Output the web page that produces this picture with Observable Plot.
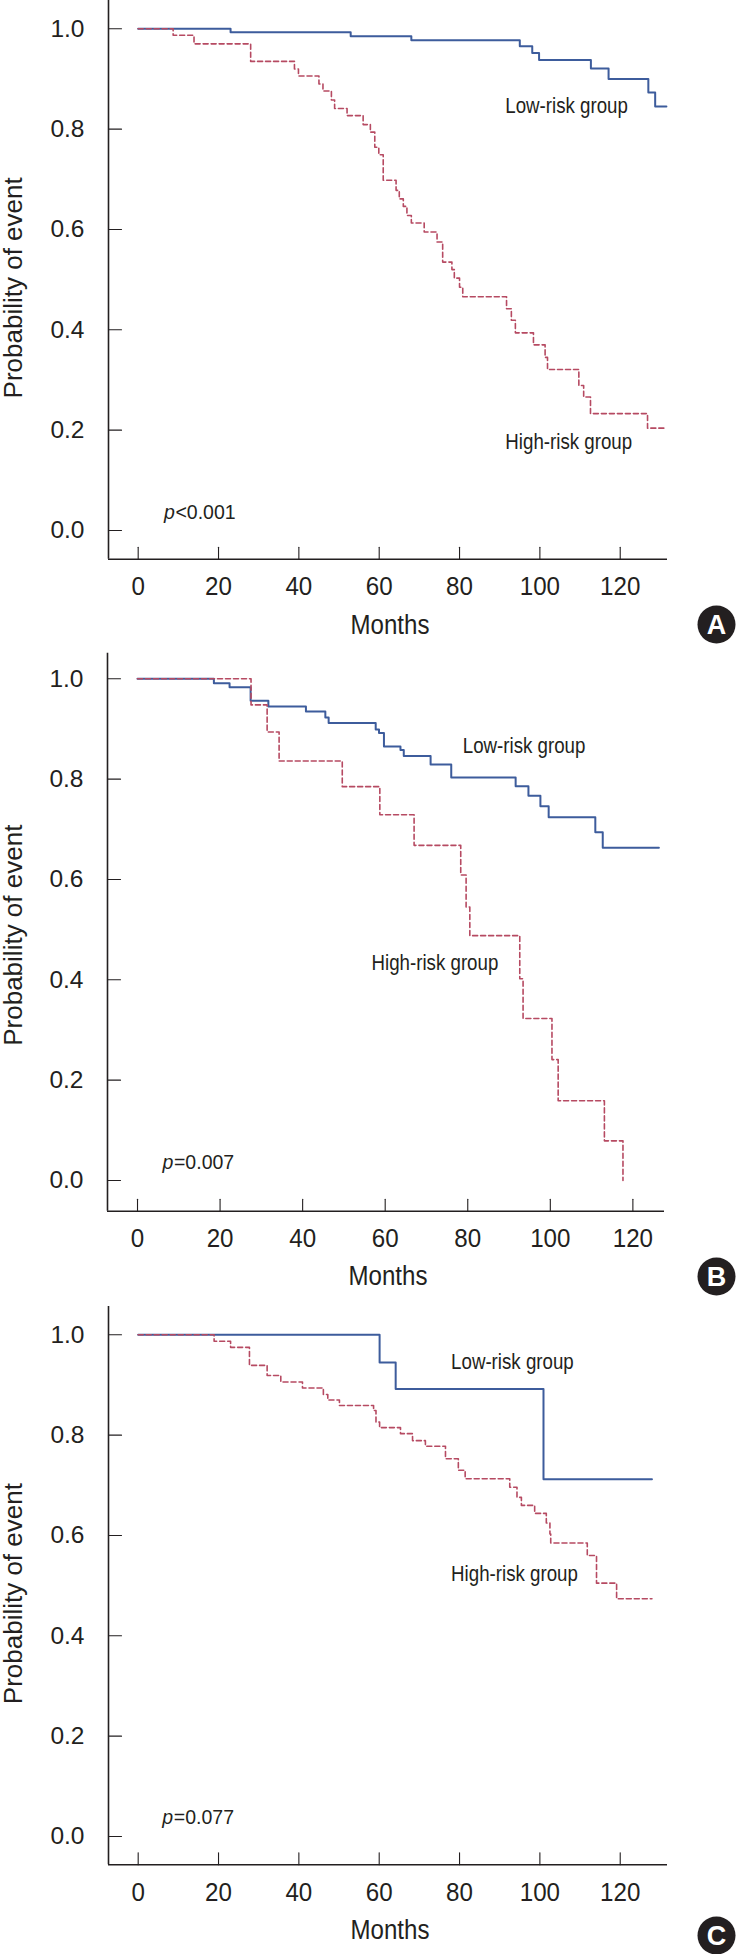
<!DOCTYPE html>
<html>
<head>
<meta charset="utf-8">
<script src="https://cdn.jsdelivr.net/npm/d3@7"></script>
<script src="https://cdn.jsdelivr.net/npm/@observablehq/plot@0.6"></script>
<style>
  html, body { margin: 0; padding: 0; background: #fff; }
  #chart { width: 736px; }
  #chart svg { display: block; }
</style>
</head>
<body>
<div id="chart"></div>
<script>
// ---------- shared labels / ticks ----------
const yTicks = [0, 0.2, 0.4, 0.6, 0.8, 1.0];
const xTicks = [0, 20, 40, 60, 80, 100, 120];
const groupNames = ["Low-risk group", "High-risk group"];
const xTitle = "Months";
const yTitle = "Probability of event";
const panelLetters = ["A", "B", "C"];
const pRelation = ["<", "=", "="];
const pValues = ["0.001", "0.007", "0.077"];

// ---------- Panel A ----------
const aLowTime = [0, 23, 52.9, 68, 95, 98.1, 99.8, 112.7, 117.1, 127, 128.7, 131.5];
const aLowSurv = [1.0, 0.993, 0.985, 0.977, 0.965, 0.952, 0.938, 0.921, 0.900, 0.873, 0.845, 0.845];
const aHighTime = [0, 8.7, 13.9, 28, 38.9, 39.9, 45, 46, 48.1, 48.9, 52, 56, 57.8, 58.9, 59.9, 61, 64.2, 65, 66, 66.9,
  68, 71.2, 74.4, 75.8, 78.1, 78.7, 80, 80.8, 91.7, 92.9, 93.9, 98.4, 101.3, 101.9, 109.7, 110.9, 112.6, 126.8, 131.5];
const aHighSurv = [1.0, 0.987, 0.970, 0.935, 0.920, 0.906, 0.890, 0.876, 0.858, 0.841, 0.827, 0.809, 0.794, 0.764, 0.749, 0.698, 0.678, 0.661, 0.646, 0.628,
  0.613, 0.595, 0.575, 0.535, 0.520, 0.503, 0.485, 0.466, 0.442, 0.419, 0.394, 0.370, 0.345, 0.321, 0.289, 0.266, 0.233, 0.204, 0.204];

// ---------- Panel B ----------
const bLowTime = [0, 18.5, 22.3, 27.4, 31.7, 40.8, 45.5, 46.3, 57.7, 58.5, 59.7, 63.7, 64.5, 71, 76, 91.6, 94.7, 97.6, 99.6, 110.9, 112.7, 126.3];
const bLowSurv = [1.0, 0.991, 0.983, 0.956, 0.945, 0.935, 0.923, 0.912, 0.899, 0.892, 0.865, 0.858, 0.846, 0.829, 0.803, 0.786, 0.767, 0.746, 0.724, 0.694, 0.663, 0.663];
const bHighTime = [0, 27.5, 31.4, 34.3, 49.6, 58.7, 67, 78.3, 79.6, 80.5, 92.6, 93.4, 100.4, 101.9, 113.1, 117.6];
const bHighSurv = [1.0, 0.948, 0.894, 0.836, 0.785, 0.729, 0.668, 0.609, 0.545, 0.488, 0.402, 0.323, 0.241, 0.159, 0.079, 0.0];

// ---------- Panel C ----------
const cLowTime = [0, 60.1, 64.1, 100.9, 127.9];
const cLowSurv = [1.0, 0.945, 0.892, 0.712, 0.712];
const cHighTime = [0, 18.9, 23, 27.7, 32.1, 35.5, 40.9, 46.1, 47.2, 50.1, 58.6, 59.2, 60.1, 65.3, 68.3, 71.5, 76.5, 79.7, 81.4, 92.5,
  94.3, 95.4, 98.7, 101.6, 102.5, 102.7, 111.8, 114.1, 119.1, 127.9];
const cHighSurv = [1.0, 0.987, 0.975, 0.939, 0.919, 0.906, 0.894, 0.881, 0.870, 0.859, 0.849, 0.826, 0.815, 0.803, 0.789, 0.778, 0.753, 0.730, 0.713, 0.696,
  0.676, 0.660, 0.644, 0.625, 0.603, 0.585, 0.560, 0.505, 0.474, 0.474];

// ---------- styling ----------
const FONT = "'Liberation Sans', Arial, Helvetica, sans-serif";
const INK = "#231f20";
const LOW = "#3d5c9c";
const HIGH = "#b64a62";
const tickShape = { draw(ctx, l) { ctx.moveTo(0, 0); ctx.lineTo(0, -l); } };
// horizontal condensing for labels set in a condensed face in the original
const condenseBy = new Map([
  ...xTicks.map(d => [String(d), 0.93]),
  [groupNames[0], 0.85], [groupNames[1], 0.85],
  [xTitle, 0.86]
]);

const panels = [
  { letter: panelLetters[0], rel: pRelation[0], pv: pValues[0],
    lowTime: aLowTime, lowSurv: aLowSurv, highTime: aHighTime, highSurv: aHighSurv,
    height: 648, ml: 108, mr: 69, mt: 0, mb: 89.3,
    xDomain: [-7.39, 131.77], yDomain: [-0.0572, 1.0564],
    lowLabel: [91.4, 0.8326], highLabel: [91.4, 0.163], pPos: [6.4, 0.023],
    ylabDy: 8, badge: [49, 65.3], monthsDy: 75 },
  { letter: panelLetters[1], rel: pRelation[1], pv: pValues[1],
    lowTime: bLowTime, lowSurv: bLowSurv, highTime: bHighTime, highSurv: bHighSurv,
    height: 652, ml: 107, mr: 72, mt: 4.7, mb: 89.3,
    xDomain: [-7.27, 127.66], yDomain: [-0.0612, 1.0510],
    lowLabel: [78.8, 0.852], highLabel: [56.7, 0.419], pPos: [6.05, 0.023],
    ylabDy: 3, badge: [52, 65.3], monthsDy: 74 },
  { letter: panelLetters[2], rel: pRelation[2], pv: pValues[2],
    lowTime: cLowTime, lowSurv: cLowSurv, highTime: cHighTime, highSurv: cHighSurv,
    height: 654, ml: 108, mr: 69, mt: 6, mb: 89.7,
    xDomain: [-7.39, 131.77], yDomain: [-0.0564, 1.0564],
    lowLabel: [77.9, 0.931], highLabel: [77.9, 0.510], pPos: [6.0, 0.024],
    ylabDy: 8, badge: [49, 70.7], monthsDy: 74 }
];

function condense(svg) {
  svg.querySelectorAll("text").forEach(el => {
    const sx = condenseBy.get(el.textContent.trim());
    if (!sx) return;
    const t = el.getAttribute("transform");
    if (t) {
      el.setAttribute("transform", `${t} scale(${sx},1)`);
    } else {
      const x = +(el.getAttribute("x") || 0);
      el.setAttribute("transform", `translate(${x},0) scale(${sx},1) translate(${-x},0)`);
    }
  });
}

function panel(cfg) {
  const low = cfg.lowTime.map((t, i) => ({ t, s: cfg.lowSurv[i] }));
  const high = cfg.highTime.map((t, i) => ({ t, s: cfg.highSurv[i] }));
  const x0 = cfg.xDomain[0], y0 = cfg.yDomain[0];
  const svg = Plot.plot({
    width: 736,
    height: cfg.height,
    marginLeft: cfg.ml, marginRight: cfg.mr, marginTop: cfg.mt, marginBottom: cfg.mb,
    x: { domain: cfg.xDomain },
    y: { domain: cfg.yDomain },
    style: { background: "white", color: INK, fontFamily: FONT, overflow: "visible" },
    marks: [
      // axis lines
      Plot.ruleX([x0], { stroke: INK, strokeWidth: 1.6 }),
      Plot.ruleY([y0], { stroke: INK, strokeWidth: 1.6 }),
      // inward ticks
      Plot.vector(yTicks, { x: () => x0, y: d => d, length: 13, rotate: 90, anchor: "start",
        shape: tickShape, stroke: INK, strokeWidth: 1.1 }),
      Plot.vector(xTicks, { x: d => d, y: () => y0, length: 12, rotate: 0, anchor: "start",
        shape: tickShape, stroke: INK, strokeWidth: 1.1 }),
      // tick labels
      Plot.axisY(yTicks, { tickSize: 0, tickPadding: 24, tickFormat: d3.format(".1f"),
        fontSize: 24.5, fontFamily: FONT, fill: INK, label: null }),
      Plot.axisX(xTicks, { tickSize: 0, tickPadding: 17.5, tickFormat: d => String(d),
        fontSize: 26, fontFamily: FONT, fill: INK, label: null }),
      // curves
      Plot.line(low, { x: "t", y: "s", curve: "step-after", stroke: LOW, strokeWidth: 2 }),
      Plot.line(high, { x: "t", y: "s", curve: "step-after", stroke: HIGH, strokeWidth: 1.6, strokeDasharray: "5,3" }),
      // group labels
      Plot.text([groupNames[0]], { x: () => cfg.lowLabel[0], y: () => cfg.lowLabel[1],
        textAnchor: "start", lineAnchor: "bottom", fontSize: 22, fontFamily: FONT, fill: INK }),
      Plot.text([groupNames[1]], { x: () => cfg.highLabel[0], y: () => cfg.highLabel[1],
        textAnchor: "start", lineAnchor: "bottom", fontSize: 22, fontFamily: FONT, fill: INK }),
      // p-value
      Plot.text(["p"], { x: () => cfg.pPos[0], y: () => cfg.pPos[1],
        textAnchor: "start", lineAnchor: "bottom", fontStyle: "italic", fontSize: 19.5, fontFamily: FONT, fill: INK }),
      Plot.text([cfg.rel + cfg.pv], { x: () => cfg.pPos[0], y: () => cfg.pPos[1], dx: 11.5,
        textAnchor: "start", lineAnchor: "bottom", fontSize: 19.5, fontFamily: FONT, fill: INK }),
      // axis titles
      Plot.text([xTitle], { frameAnchor: "bottom", dx: 2, dy: cfg.monthsDy, lineAnchor: "bottom",
        fontSize: 28, fontFamily: FONT, fill: INK }),
      Plot.text([yTitle], { frameAnchor: "left", rotate: -90, dx: 13 - cfg.ml, dy: cfg.ylabDy,
        textAnchor: "middle", lineAnchor: "middle", fontSize: 26, fontFamily: FONT, fill: INK }),
      // panel badge
      Plot.dot([cfg.letter], { frameAnchor: "bottom-right", dx: cfg.badge[0], dy: cfg.badge[1],
        r: 19, fill: INK, stroke: null }),
      Plot.text([cfg.letter], { frameAnchor: "bottom-right", dx: cfg.badge[0], dy: cfg.badge[1] + 1,
        textAnchor: "middle", lineAnchor: "middle", fontWeight: "bold", fontSize: 27, fontFamily: FONT, fill: "white" })
    ]
  });
  condense(svg);
  return svg;
}

const chart = document.getElementById("chart");
for (const cfg of panels) chart.appendChild(panel(cfg));
</script>
</body>
</html>
